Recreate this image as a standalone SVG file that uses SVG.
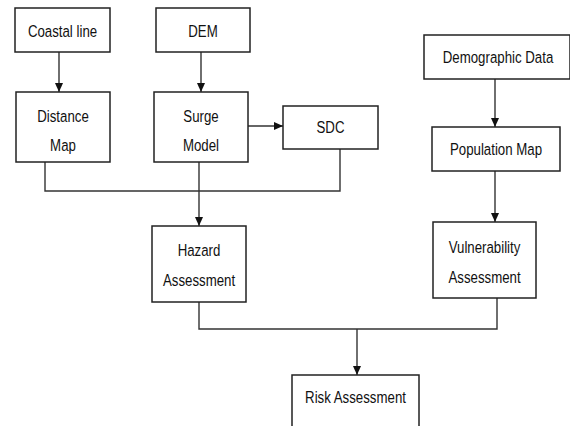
<svg xmlns="http://www.w3.org/2000/svg" width="570" height="426" viewBox="0 0 570 426">
<style>
.box{fill:#fff;stroke:#222;stroke-width:1.5}
.t{font-family:"Liberation Sans",Arial,sans-serif;font-size:17px;fill:#111;text-anchor:middle}
.c{fill:none;stroke:#333;stroke-width:1.4}
</style>
<defs>
<marker id="ah" markerWidth="10" markerHeight="10" refX="9" refY="4" orient="auto" markerUnits="userSpaceOnUse">
<path d="M0,0 L9,4 L0,8 Z" fill="#111"/>
</marker>
</defs>
<rect width="570" height="426" fill="#fff"/>
<g id="connectors">
<line class="c" x1="59" y1="52" x2="59" y2="92" marker-end="url(#ah)"/>
<line class="c" x1="201" y1="52" x2="201" y2="92" marker-end="url(#ah)"/>
<line class="c" x1="248" y1="126" x2="283" y2="126" marker-end="url(#ah)"/>
<polyline class="c" points="45,162 45,191 340,191 340,149"/>
<line class="c" x1="199" y1="162" x2="199" y2="226" marker-end="url(#ah)"/>
<line class="c" x1="495" y1="79" x2="495" y2="127" marker-end="url(#ah)"/>
<line class="c" x1="495" y1="171" x2="495" y2="222" marker-end="url(#ah)"/>
<polyline class="c" points="199,302 199,329 497,329 497,298"/>
<line class="c" x1="357" y1="329" x2="357" y2="375" marker-end="url(#ah)"/>
</g>
<g id="coastal"><rect class="box" x="15" y="8" width="95" height="44"/><text class="t" transform="translate(62.5,37) scale(0.78,1)">Coastal line</text></g>
<g id="dem"><rect class="box" x="156" y="8" width="94" height="44"/><text class="t" transform="translate(203,37) scale(0.78,1)">DEM</text></g>
<g id="distance"><rect class="box" x="16" y="92" width="94" height="70"/><text class="t" transform="translate(63,122) scale(0.78,1)">Distance</text><text class="t" transform="translate(63,151) scale(0.78,1)">Map</text></g>
<g id="surge"><rect class="box" x="154" y="92" width="94" height="70"/><text class="t" transform="translate(201,122) scale(0.78,1)">Surge</text><text class="t" transform="translate(201,151) scale(0.78,1)">Model</text></g>
<g id="sdc"><rect class="box" x="283" y="106" width="95" height="43"/><text class="t" transform="translate(330.5,133) scale(0.78,1)">SDC</text></g>
<g id="demographic"><rect class="box" x="424" y="35" width="146" height="44"/><text class="t" transform="translate(498,63) scale(0.78,1)">Demographic Data</text></g>
<g id="population"><rect class="box" x="432" y="127" width="128" height="44"/><text class="t" transform="translate(496,155) scale(0.78,1)">Population Map</text></g>
<g id="hazard"><rect class="box" x="152" y="226" width="94" height="76"/><text class="t" transform="translate(199,256) scale(0.78,1)">Hazard</text><text class="t" transform="translate(199,286) scale(0.78,1)">Assessment</text></g>
<g id="vulnerability"><rect class="box" x="433" y="222" width="103" height="76"/><text class="t" transform="translate(484.5,253) scale(0.78,1)">Vulnerability</text><text class="t" transform="translate(484.5,283) scale(0.78,1)">Assessment</text></g>
<g id="risk"><rect class="box" x="292" y="375" width="127" height="60"/><text class="t" transform="translate(355.5,403) scale(0.78,1)">Risk Assessment</text></g>
</svg>
